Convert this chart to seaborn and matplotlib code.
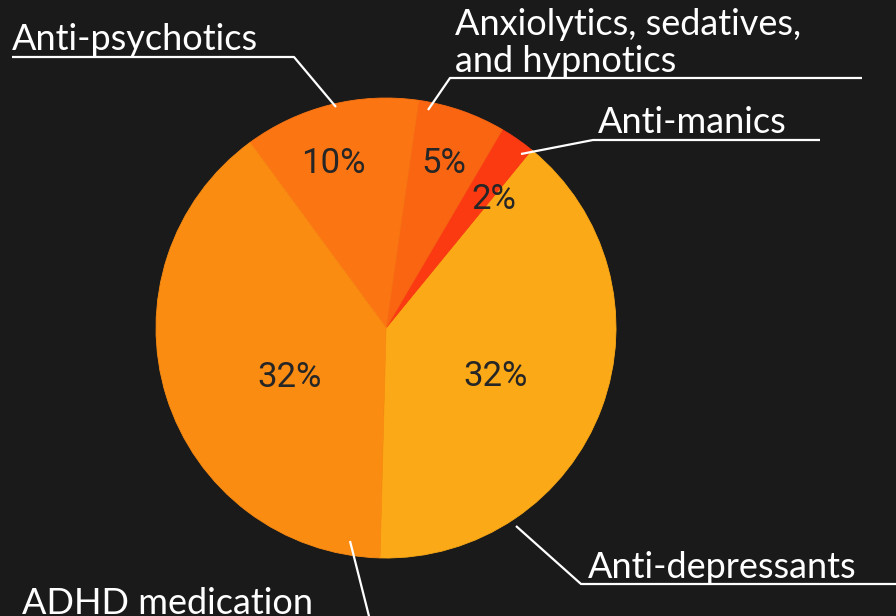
import matplotlib
matplotlib.use("Agg")
import matplotlib.pyplot as plt
import seaborn as sns
import numpy as np

# ---- data ----
categories = ["Anti-depressants", "Anti-manics", "Anxiolytics, sedatives,\nand hypnotics",
              "Anti-psychotics", "ADHD medication"]
values = [32, 2, 5, 10, 32]
colors = ["#FBA916", "#FB3A12", "#FA6512", "#FB7512", "#FB8C12"]

# ---- style ----
sns.set_theme(style="white")
plt.rcParams["font.family"] = ["Lato", "DejaVu Sans"]

W, H = 896, 616
BG = "#1a1a1a"
fig = plt.figure(figsize=(W / 100, H / 100), dpi=100, facecolor=BG)
ax = fig.add_axes([0, 0, 1, 1])
ax.set_facecolor(BG)

def Y(y):
    return H - y

cx, cy, R = 386, Y(328), 230
wedges, _ = ax.pie(values, colors=colors, startangle=-91.5, counterclock=True,
                   center=(cx, cy), radius=R, wedgeprops=dict(linewidth=0))
for w in wedges:
    w.set_edgecolor(w.get_facecolor())
    w.set_linewidth(0.6)
ax.set_xlim(0, W)
ax.set_ylim(0, H)
ax.set_aspect("equal")
ax.axis("off")

# percentage labels (polar placement relative to each wedge)
pct_radius = [0.52, 0.73, 0.76, 0.75, 0.47]
pct_offset = [-3.6, -5.0, 0.0, 3.8, 9.6]
for w, v, rf, off in zip(wedges, values, pct_radius, pct_offset):
    a = np.deg2rad((w.theta1 + w.theta2) / 2 + off)
    ax.text(cx + rf * R * np.cos(a), cy + rf * R * np.sin(a), f"{v}%",
            ha="center", va="center", fontsize=25, color="#262626",
            family=["Roboto", "DejaVu Sans"], fontweight="normal")

# category labels with leader lines (pixel layout)
lab_pos = [(588, 578), (598, 133), (455, 72), (12, 50), (22, 614)]
leaders = [
    [(516, 526), (581, 584), (900, 584)],
    [(521, 154), (593, 140), (820, 140)],
    [(428, 110), (450, 78), (862, 78)],
    [(336, 107), (294, 57), (12, 57)],
    [(350, 541), (375, 640)],
]
for name, (tx, ty), pts in zip(categories, lab_pos, leaders):
    ax.text(tx, Y(ty), name, ha="left", va="baseline", fontsize=26,
            color="white", linespacing=1.15)
    xs = [p[0] for p in pts]
    ys = [Y(p[1]) for p in pts]
    ax.plot(xs, ys, color="white", lw=1.6, solid_capstyle="butt", clip_on=False)

fig.savefig("out.png", dpi=100, facecolor=BG)
